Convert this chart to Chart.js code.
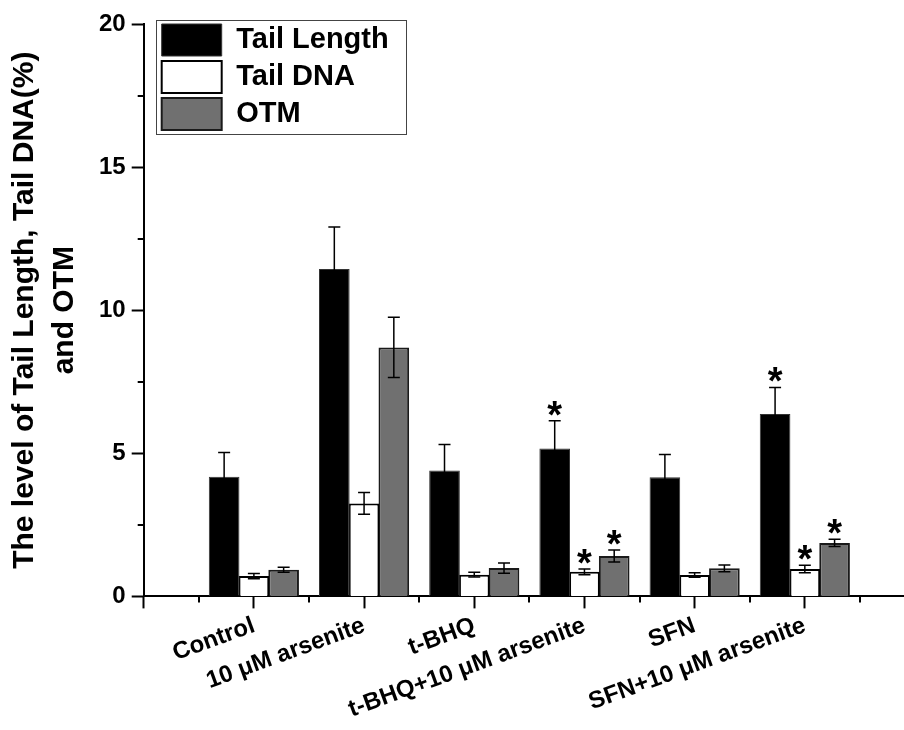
<!DOCTYPE html>
<html><head><meta charset="utf-8">
<script src="https://cdn.jsdelivr.net/npm/chart.js@4.4.0/dist/chart.umd.min.js"></script>
<style>html,body{margin:0;padding:0;background:#fff}</style>
</head><body>
<canvas id="c" width="904" height="730"></canvas>
<script>
const categories = ['Control', '10 μM arsenite', 't-BHQ', 't-BHQ+10 μM arsenite', 'SFN', 'SFN+10 μM arsenite'];
const seriesNames = ['Tail Length', 'Tail DNA', 'OTM'];
const tailLength    = [4.18, 11.44, 4.40, 5.17, 4.16, 6.37];
const tailLengthErr = [0.85, 1.47, 0.91, 0.97, 0.80, 0.93];
const tailDNA       = [0.71, 3.25, 0.76, 0.86, 0.75, 0.96];
const tailDNAErr    = [0.09, 0.38, 0.085, 0.10, 0.08, 0.13];
const otm           = [0.93, 8.70, 0.99, 1.41, 0.98, 1.87];
const otmErr        = [0.09, 1.05, 0.18, 0.21, 0.12, 0.13];
const tailLengthSig = [false, false, false, true, false, true];
const tailDNASig    = [false, false, false, true, false, true];
const otmSig        = [false, false, false, true, false, true];
const yTicks = [0, 5, 10, 15, 20];
const yMinorTicks = [2.5, 7.5, 12.5, 17.5];
const xMinorTicks = [0.5, 1.5, 2.5, 3.5, 4.5, 5.5, 6.5];

const FONT = "'Liberation Sans', Arial, Helvetica, sans-serif";
const seriesErr = [tailLengthErr, tailDNAErr, otmErr];
const seriesSig = [tailLengthSig, tailDNASig, otmSig];
const pts = vals => vals.map((v, i) => ({x: i + 1, y: v}));

const extras = {
  id: 'extras',
  afterLayout(chart) {
    const lg = chart.legend, ca = chart.chartArea;
    lg.left = ca.left + 13;
    lg.top = ca.top - 5;
  },
  afterDraw(chart) {
    const ctx = chart.ctx, xs = chart.scales.x, ys = chart.scales.y;
    ctx.save();
    ctx.strokeStyle = '#000';
    ctx.lineWidth = 2;
    yMinorTicks.forEach(v => {
      const p = Math.round(ys.getPixelForValue(v));
      ctx.beginPath(); ctx.moveTo(xs.left - 6, p); ctx.lineTo(xs.left, p); ctx.stroke();
    });
    xMinorTicks.forEach(v => {
      const p = Math.round(xs.getPixelForValue(v));
      ctx.beginPath(); ctx.moveTo(p, ys.bottom); ctx.lineTo(p, ys.bottom + 6); ctx.stroke();
    });
    ctx.lineWidth = 1.5;
    chart.data.datasets.forEach((ds, di) => {
      const meta = chart.getDatasetMeta(di);
      meta.data.forEach((bar, i) => {
        const v = ds.data[i].y, e = seriesErr[di][i];
        const t = ys.getPixelForValue(v + e), b = ys.getPixelForValue(v - e);
        const cx = bar.x, hw = 6;
        ctx.strokeStyle = '#000';
        ctx.beginPath();
        ctx.moveTo(cx, t); ctx.lineTo(cx, b);
        ctx.moveTo(cx - hw, t); ctx.lineTo(cx + hw, t);
        ctx.moveTo(cx - hw, b); ctx.lineTo(cx + hw, b);
        ctx.stroke();
        if (seriesSig[di][i]) {
          ctx.fillStyle = '#000';
          ctx.font = 'bold 38px ' + FONT;
          ctx.textAlign = 'center';
          ctx.textBaseline = 'alphabetic';
          ctx.fillText('*', cx, t + 7);
        }
      });
    });
    const lg = chart.legend;
    const pad = lg.options.labels.padding;
    const col = lg.columnSizes && lg.columnSizes[0];
    if (col) {
      const l = lg.left + pad - 6, tp = lg.top + pad - 4;
      ctx.strokeStyle = '#444';
      ctx.lineWidth = 1;
      ctx.strokeRect(Math.round(l) + 0.5, Math.round(tp) + 0.5, Math.round(col.width + 23), Math.round(col.height + 3));
    }
    ctx.restore();
  }
};

new Chart(document.getElementById('c'), {
  type: 'bar',
  data: {
    datasets: [
      {label: seriesNames[0], data: pts(tailLength), backgroundColor: '#000', borderColor: '#333', borderWidth: 1},
      {label: seriesNames[1], data: pts(tailDNA), backgroundColor: '#fff', borderColor: '#000', borderWidth: 2},
      {label: seriesNames[2], data: pts(otm), backgroundColor: '#707070', borderColor: '#1a1a1a', borderWidth: 2}
    ]
  },
  options: {
    responsive: false,
    animation: false,
    layout: {padding: {left: 4, top: 24, right: 0, bottom: 3}},
    datasets: {bar: {categoryPercentage: 0.81, barPercentage: 1.03}},
    scales: {
      x: {
        type: 'linear', min: 0, max: 6.9, offset: false,
        grid: {drawOnChartArea: false, offset: false, tickLength: 12, tickWidth: 2, tickColor: '#000'},
        border: {display: true, color: '#000', width: 2},
        ticks: {
          stepSize: 1, includeBounds: false, autoSkip: false,
          minRotation: 20, maxRotation: 20, padding: 3,
          color: '#000', font: {family: FONT, size: 24, weight: 'bold'},
          callback: v => (Number.isInteger(v) && v >= 1 && v <= categories.length) ? categories[v - 1] : ''
        }
      },
      y: {
        min: 0, max: 20,
        afterBuildTicks: s => { s.ticks = yTicks.map(v => ({value: v})); },
        grid: {drawOnChartArea: false, tickLength: 12, tickWidth: 2, tickColor: '#000'},
        border: {display: true, color: '#000', width: 2},
        ticks: {padding: 6, color: '#000', font: {family: FONT, size: 24, weight: 'bold'}},
        title: {
          display: true,
          text: ['The level of Tail Length, Tail DNA(%)', 'and OTM'],
          color: '#000',
          font: {family: FONT, size: 30, weight: 'bold', lineHeight: 1.35},
          padding: {top: 0, bottom: 8}
        }
      }
    },
    plugins: {
      tooltip: {enabled: false},
      legend: {
        position: 'chartArea', align: 'start',
        labels: {boxWidth: 60, boxHeight: 32, padding: 5, color: '#000', font: {family: FONT, size: 29, weight: 'bold'}}
      }
    }
  },
  plugins: [extras]
});
</script>
</body></html>
